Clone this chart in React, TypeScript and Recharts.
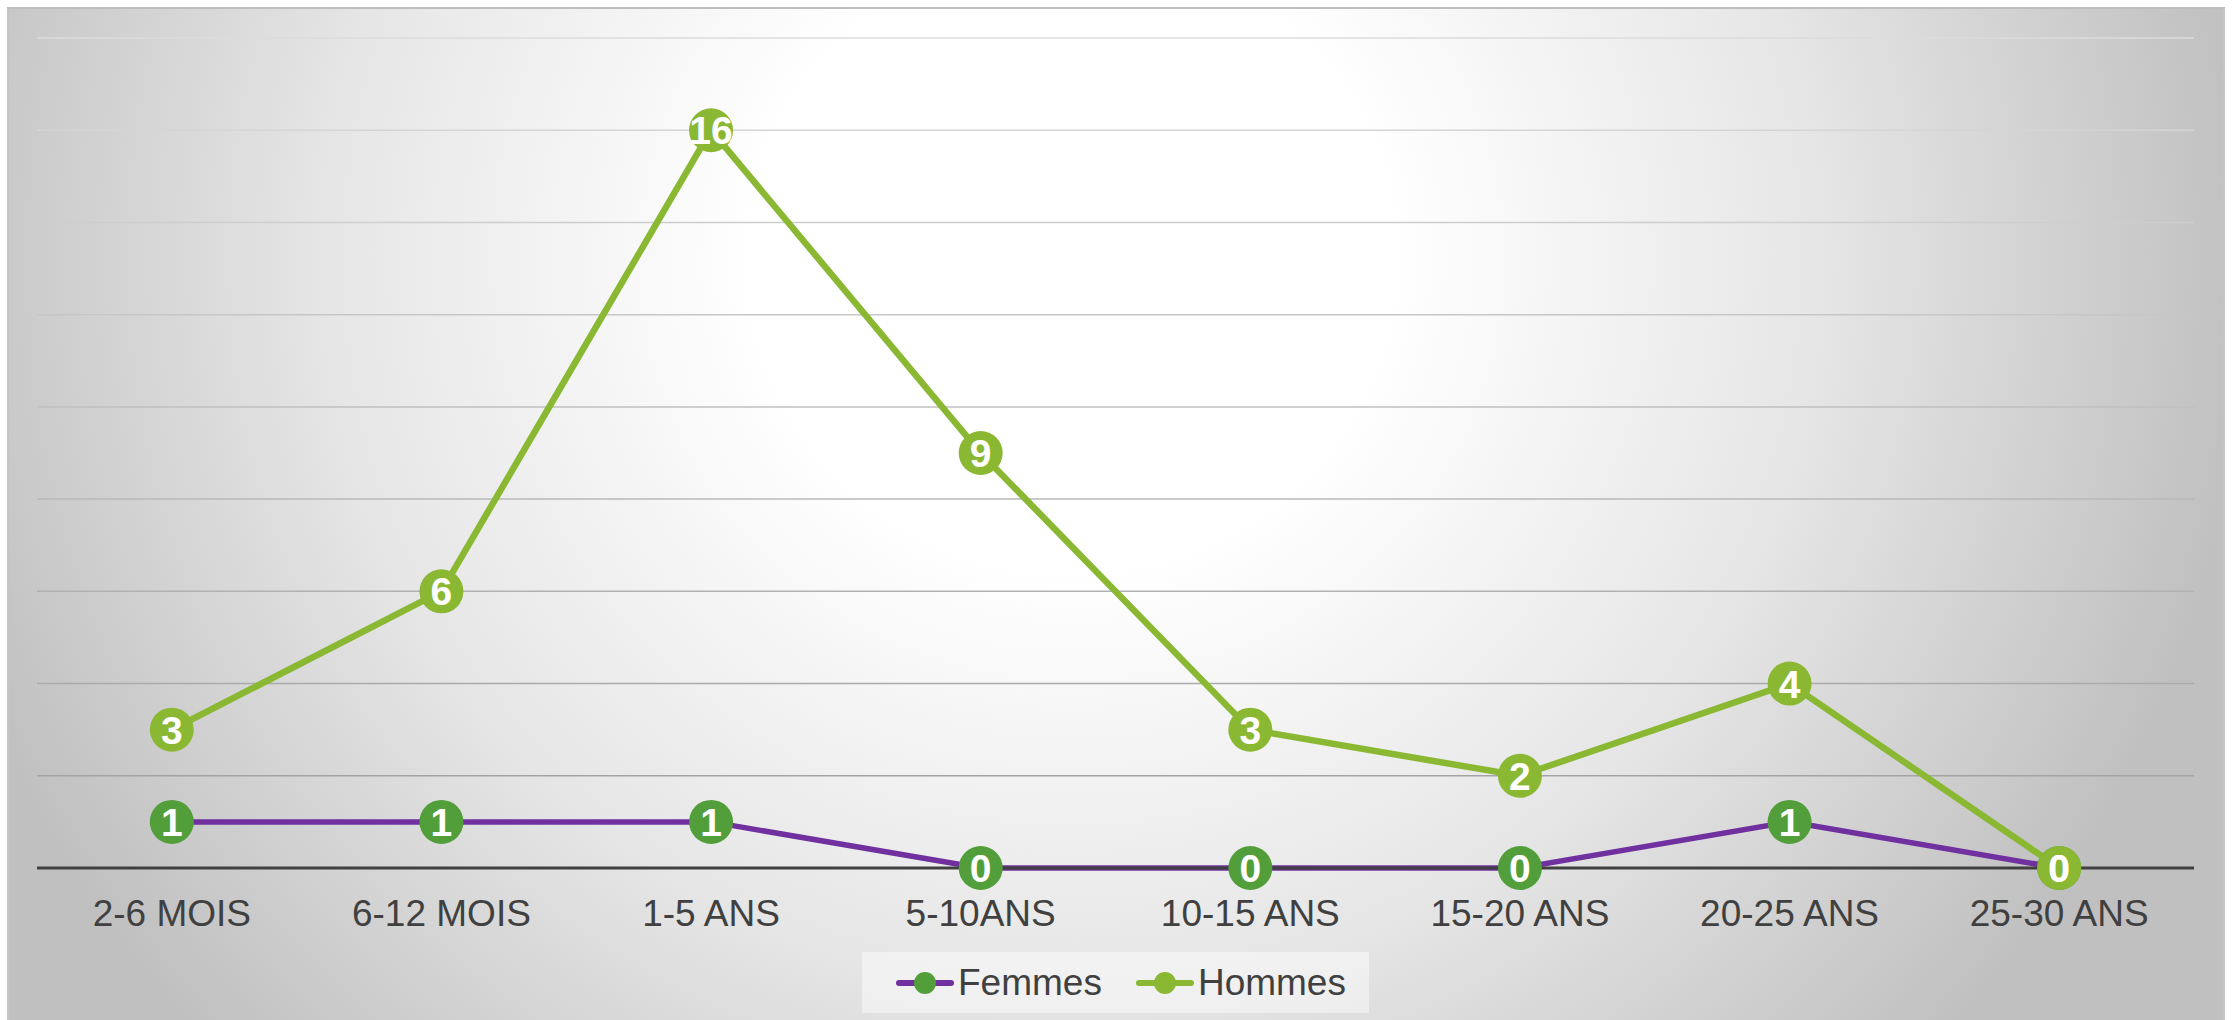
import { CartesianGrid, LabelList, Legend, Line, LineChart, XAxis, YAxis } from "recharts";

const categories = ["2-6 MOIS", "6-12 MOIS", "1-5 ANS", "5-10ANS", "10-15 ANS", "15-20 ANS", "20-25 ANS", "25-30 ANS"];
const femmes = [1, 1, 1, 0, 0, 0, 1, 0];
const hommes = [3, 6, 16, 9, 3, 2, 4, 0];
const yTicks = [0, 2, 4, 6, 8, 10, 12, 14, 16, 18];

const data = categories.map((name, i) => ({ name, Femmes: femmes[i], Hommes: hommes[i] }));

const FONT = '"Liberation Sans", Arial, sans-serif';
const PURPLE = "#7030a0";
const DARK_GREEN = "#529e3a";
const GREEN = "#8ab833";

const legendItems = [
  { name: "Femmes", line: PURPLE, dot: DARK_GREEN },
  { name: "Hommes", line: GREEN, dot: GREEN },
];

const PointLabel = (props: any) => {
  const { x, y, value } = props;
  return (
    <text x={x} y={y} dy="0.36em" textAnchor="middle" fill="#fff" fontSize={39} fontWeight="bold" fontFamily={FONT}>
      {value}
    </text>
  );
};

const LegendBox = () => (
  <div
    style={{
      height: 61,
      width: 507,
      background: "rgba(255,255,255,0.45)",
      display: "flex",
      alignItems: "center",
      paddingLeft: 34,
      boxSizing: "border-box",
      fontFamily: FONT,
      fontSize: 37,
      color: "#404040",
    }}
  >
    {legendItems.map((it) => (
      <div key={it.name} style={{ display: "flex", alignItems: "center", marginRight: 34 }}>
        <svg width={58} height={24} style={{ marginRight: 4 }}>
          <line x1={3} y1={12} x2={55} y2={12} stroke={it.line} strokeWidth={6} strokeLinecap="round" />
          <circle cx={29} cy={12} r={11} fill={it.dot} />
        </svg>
        <span>{it.name}</span>
      </div>
    ))}
  </div>
);

export default function App() {
  return (
    <div style={{ position: "absolute", left: 0, top: 0, width: 2236, height: 1020, background: "#fff", overflow: "hidden" }}>
      <div
        style={{
          position: "absolute",
          left: 7,
          top: 7,
          width: 2218,
          height: 1020,
          boxSizing: "border-box",
          borderTop: "2px solid #bdbdbd",
          borderLeft: "2px solid #c4c4c4",
          borderRight: "2px solid #c4c4c4",
          background:
            "radial-gradient(ellipse 1180px 1150px at 1063px 250px, #ffffff 0%, #ffffff 27%, #e6e6e6 63%, #c0c0c0 100%)",
        }}
      />
      <div style={{ position: "absolute", left: 0, top: 0 }}>
        <LineChart width={2236} height={1020} data={data} margin={{ top: 38, right: 42, bottom: 31, left: 37 }}>
          <defs>
            <linearGradient id="gridGrad" gradientUnits="userSpaceOnUse" x1={0} y1={38} x2={0} y2={868}>
              <stop offset="0%" stopColor="#dcdcdc" />
              <stop offset="100%" stopColor="#9c9c9c" />
            </linearGradient>
          </defs>
          <CartesianGrid vertical={false} stroke="url(#gridGrad)" strokeWidth={1.5} />
          <YAxis hide domain={[0, 18]} ticks={yTicks} />
          <XAxis
            dataKey="name"
            height={60}
            padding={{ left: 134.8, right: 134.8 }}
            axisLine={{ stroke: "#404040", strokeWidth: 3 }}
            tickLine={false}
            tickSize={0}
            tickMargin={32}
            tick={{ fill: "#404040", fontSize: 37, fontFamily: FONT }}
            interval={0}
          />
          <Legend
            verticalAlign="bottom"
            content={<LegendBox />}
            wrapperStyle={{ top: 952, left: 862, width: 507, height: 61 }}
          />
          <Line
            dataKey="Femmes"
            stroke={PURPLE}
            strokeWidth={5.5}
            dot={{ r: 22, fill: DARK_GREEN, stroke: "none" }}
            activeDot={false}
            isAnimationActive={false}
          >
            <LabelList dataKey="Femmes" content={<PointLabel />} />
          </Line>
          <Line
            dataKey="Hommes"
            stroke={GREEN}
            strokeWidth={6.5}
            dot={{ r: 22, fill: GREEN, stroke: "none" }}
            activeDot={false}
            isAnimationActive={false}
          >
            <LabelList dataKey="Hommes" content={<PointLabel />} />
          </Line>
        </LineChart>
      </div>
    </div>
  );
}
